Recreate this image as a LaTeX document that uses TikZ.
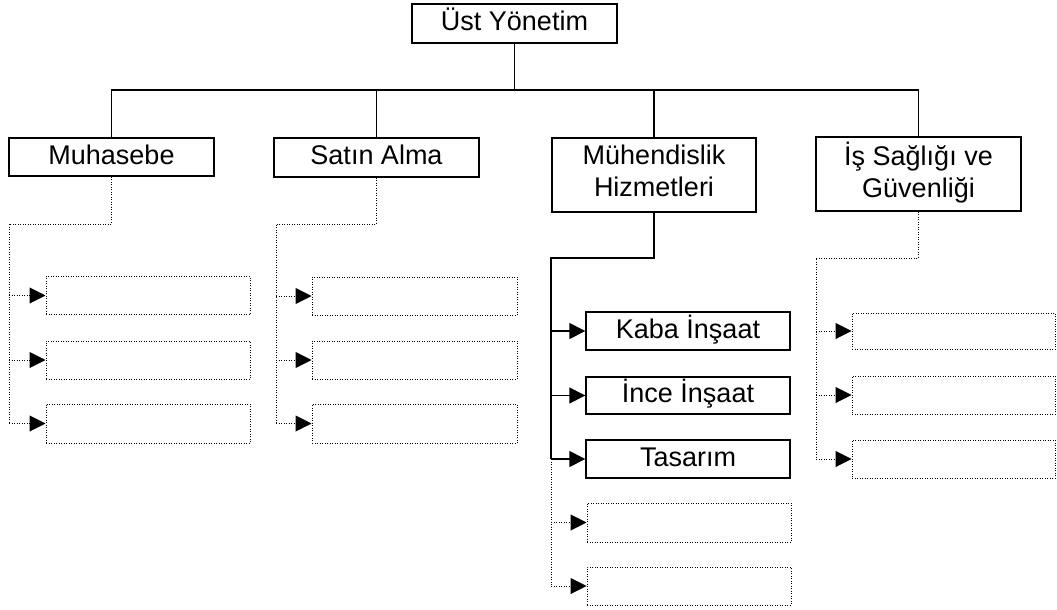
\documentclass[tikz,border=0pt]{standalone}
\usepackage{fontspec}
\setmainfont{Liberation Sans}
\usetikzlibrary{arrows.meta}

\tikzset{
  box/.style={draw, line width=1.4pt, inner sep=0pt, align=center,
    font=\fontsize{27pt}{32pt}\selectfont},
  oneline/.style={text height=20pt, text depth=6pt},
  twoline/.style={text depth=8pt},
  emptybox/.style={draw, line width=1pt, dash pattern=on 1pt off 1.5pt, inner sep=0pt,
    minimum height=38pt},
  link/.style={line width=1.4pt},
  dotlink/.style={line width=1pt, dash pattern=on 1pt off 1.5pt},
  tip/.style={-{Triangle[length=16pt,width=16pt]}},
}

\begin{document}
\begin{tikzpicture}[x=1pt,y=-1pt]
\useasboundingbox (0,0) rectangle (1057,610);

% top level and departments
\node[box, oneline, minimum width=205pt, minimum height=39pt] (top) at (514.5,23.5) {Üst Yönetim};
\node[box, oneline, minimum width=205pt, minimum height=38pt] (muh) at (111.5,157) {Muhasebe};
\node[box, oneline, minimum width=205pt, minimum height=39pt] (sat) at (376.5,157.5) {Satın Alma};
\node[box, twoline, minimum width=204pt, minimum height=74pt] (mhz) at (654,175) {Mühendislik\\Hizmetleri};
\node[box, twoline, minimum width=205pt, minimum height=74pt] (isg) at (918.5,174) {İş Sağlığı ve\\Güvenliği};

% bus between top level and departments
\coordinate (bus) at (0,90);
\draw[link] (top.south) -- (top.south |- bus);
\draw[link] (muh.north) |- (isg.north |- bus) -- (isg.north);
\draw[link] (sat.north) -- (sat.north |- bus);
\draw[link] (mhz.north) -- (mhz.north |- bus);

% Muhasebe sub-units
\node[emptybox, minimum width=204pt] (m1) at (148,295.5) {};
\node[emptybox, minimum width=204pt] (m2) at (148,360) {};
\node[emptybox, minimum width=204pt, minimum height=39pt] (m3) at (148,423.5) {};
\coordinate (muhS) at (9,224);
\draw[dotlink] (muh.south) |- (muhS) -- (muhS |- m3.west);
\foreach \c in {m1,m2,m3} \draw[dotlink, tip] (\c.west -| muhS) -- (\c.west);

% Satın Alma sub-units
\node[emptybox, minimum width=205pt] (s1) at (414.5,296) {};
\node[emptybox, minimum width=205pt] (s2) at (414.5,360) {};
\node[emptybox, minimum width=205pt, minimum height=39pt] (s3) at (414.5,423.5) {};
\coordinate (satS) at (276,224);
\draw[dotlink] (sat.south) |- (satS) -- (satS |- s3.west);
\foreach \c in {s1,s2,s3} \draw[dotlink, tip] (\c.west -| satS) -- (\c.west);

% Mühendislik Hizmetleri sub-units
\node[box, oneline, minimum width=204pt, minimum height=38pt] (k1) at (688,331) {Kaba İnşaat};
\node[box, oneline, minimum width=204pt, minimum height=37pt] (k2) at (688,395.5) {İnce İnşaat};
\node[box, oneline, minimum width=204pt, minimum height=38pt] (k3) at (688,459) {Tasarım};
\node[emptybox, minimum width=204pt, minimum height=39pt] (k4) at (689,522.5) {};
\node[emptybox, minimum width=204pt] (k5) at (689,586) {};
\coordinate (mhzS) at (551,258);
\draw[link] (mhz.south) |- (mhzS) -- (mhzS |- k3.west);
\foreach \c in {k1,k2,k3} \draw[link, tip] (\c.west -| mhzS) -- (\c.west);
\draw[dotlink] (mhzS |- k3.west) -- (mhzS |- k5.west);
\foreach \c in {k4,k5} \draw[dotlink, tip] (\c.west -| mhzS) -- (\c.west);

% İş Sağlığı ve Güvenliği sub-units
\node[emptybox, minimum width=203pt, minimum height=36pt] (g1) at (953.5,331) {};
\node[emptybox, minimum width=203pt] (g2) at (953.5,395) {};
\node[emptybox, minimum width=203pt] (g3) at (953.5,459) {};
\coordinate (isgS) at (816,258);
\draw[dotlink] (isg.south) |- (isgS) -- (isgS |- g3.west);
\foreach \c in {g1,g2,g3} \draw[dotlink, tip] (\c.west -| isgS) -- (\c.west);
\end{tikzpicture}
\end{document}
